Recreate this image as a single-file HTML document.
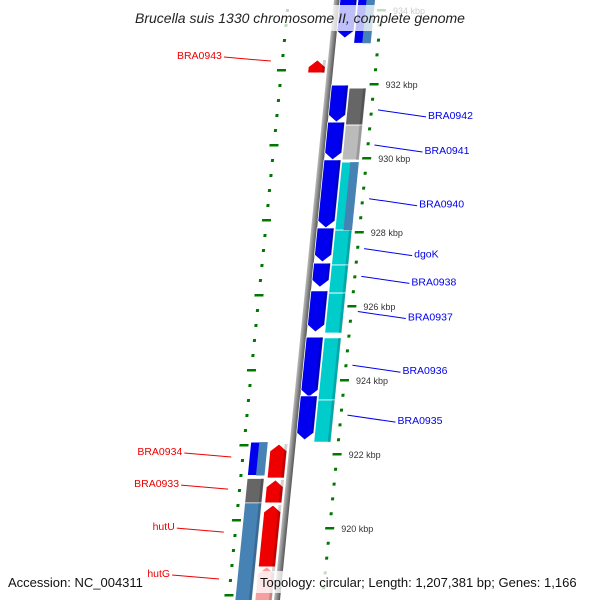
<!DOCTYPE html>
<html><head><meta charset="utf-8"><style>
html,body{margin:0;padding:0;background:#fff;width:600px;height:600px;overflow:hidden;position:relative;}
svg{display:block;font-family:"Liberation Sans",sans-serif;}
</style></head><body>
<svg id="map" width="600" height="600" viewBox="0 0 600 600" style="position:absolute;left:0;top:0" xmlns="http://www.w3.org/2000/svg">
<defs>
<linearGradient id="bb" x1="0" x2="1"><stop offset="0" stop-color="#bbb"/><stop offset="0.5" stop-color="#888"/><stop offset="1" stop-color="#555"/></linearGradient>
<clipPath id="frame"><rect x="0" y="0" width="600" height="600"/></clipPath>
</defs>
<g clip-path="url(#frame)">
<g id="skew" transform="matrix(1,0,-0.1,1,337,0)"></g>
<g id="labels"></g>
</g>
</svg>
<script>
// ---- data ----
const genes = [
  // [startKbp, endKbp, lane, color, arrowDir]
  [934.6, 933.24, 1, "#0000ee", 1],
  [931.97, 930.97, 1, "#0000ee", 1],
  [930.97, 929.95, 1, "#0000ee", 1],
  [929.95, 928.11, 1, "#0000ee", 1],
  [928.11, 927.19, 1, "#0000ee", 1],
  [927.16, 926.51, 1, "#0000ee", 1],
  [926.41, 925.30, 1, "#0000ee", 1],
  [925.16, 923.54, 1, "#0000ee", 1],
  [923.57, 922.38, 1, "#0000ee", 1],
  [934.6, 933.1, 2, "#0000ee", 0],
  [931.89, 930.89, 2, "#666666", 0],
  [930.89, 929.95, 2, "#bbbbbb", 0],
  [929.89, 928.05, 2, "#00cccc", 0],
  [928.05, 927.11, 2, "#00cccc", 0],
  [927.11, 926.35, 2, "#00cccc", 0],
  [926.35, 925.27, 2, "#00cccc", 0],
  [925.14, 923.46, 2, "#00cccc", 0],
  [923.46, 922.32, 2, "#00cccc", 0],
  [932.65, 932.30, -1, "#ee0000", -1],
  [922.27, 921.35, -1, "#ee0000", -1],
  [921.30, 920.68, -1, "#ee0000", -1],
  [920.62, 918.95, -1, "#ee0000", -1],
  [918.95, 917.5, -1, "#f5a0a0", -1],
  [922.32, 921.42, -2, "#0000ee", 0],
  [921.34, 920.68, -2, "#666666", 0],
  [920.68, 917.5, -2, "#4682b4", 0]
];
const stripes = [[929.89, 928.05, 2], [934.6, 933.1, 2], [922.32, 921.42, -2]];
const rightLabels = ["BRA0942","BRA0941","BRA0940","dgoK","BRA0938","BRA0937","BRA0936","BRA0935"];
const rightLabelKbp = [931.30, 930.35, 928.90, 927.55, 926.80, 925.85, 924.40, 923.05];
const leftLabels = ["BRA0943","BRA0934","BRA0933","hutU","hutG"];
const leftLabelKbp = [932.62, 921.92, 921.05, 919.89, 918.62];
const tickKbp = [934, 932, 930, 928, 926, 924, 922, 920];

// ---- axis ----
const ppk = 37;
function yOf(k){ return 84 + (932 - k) * ppk; }
function baseX(y){ return 337 - 0.1 * y; }
const NS = "http://www.w3.org/2000/svg";
const sk = document.getElementById("skew");
const lab = document.getElementById("labels");
function mk(tag, attrs, parent){ const e = document.createElementNS(NS, tag); for (const k in attrs) e.setAttribute(k, attrs[k]); parent.appendChild(e); return e; }

const bbEl = mk("rect", {x:-3, y:-5, width:6, height:610, fill:"url(#bb)"}, sk);



const laneU = {"1":[3,20], "2":[21,38], "-1":[-22,-5], "-2":[-42,-25]};
genes.forEach((g) => {
  const y0 = yOf(g[0]), y1 = yOf(g[1]);
  const [u0, u1] = laneU[String(g[2])];
  const um = (u0 + u1) / 2, h = 7;
  let d;
  if (g[4] === 1) d = `M${u0},${y0}H${u1}V${y1-h}L${um},${y1}L${u0},${y1-h}Z`;
  else if (g[4] === -1) d = `M${u0},${y1}H${u1}V${y0+h}L${um},${y0}L${u0},${y0+h}Z`;
  else d = `M${u0},${y0}H${u1}V${y1}H${u0}Z`;
  const p = mk("path", {d: d, fill: g[3], stroke: "#fff", "stroke-width": 0.8}, sk);
  
  
  mk("path", {d: `M${u1-3},${y0}H${u1}V${y1-(g[4]===1?h:0)}H${u1-3}Z`, fill:"#000", opacity:0.18}, sk);
});
stripes.forEach(s => {
  const [u0,u1] = laneU[String(s[2])];
  const r = mk("rect", {x:(u0+u1)/2, y:yOf(s[0]), width:(u1-u0)/2, height:yOf(s[1])-yOf(s[0]), fill:"#4682b4"}, sk);
  
  
});

for (let k = 935.2; k >= 917.5; k -= 0.4) {
  const y = yOf(k);
  const major = Math.abs(Math.round(k) - k) < 0.05 && Math.round(k) % 2 === 0;
  const t = mk("rect", {x: 45 - (major?4:1), y: y-1, width: major?9:3, height: major?2.5:3, fill:"#007700"}, sk);
  
  
}
for (let j = -6; j < 46; j++) {
  const y = 70 + j * 15;
  const major = j % 5 === 0;
  const t = mk("rect", {x: -49 - (major?4:1), y: y-1, width: major?9:3, height: major?2.5:3, fill:"#007700"}, sk);
  
  
}

tickKbp.forEach(k => {
  const y = yOf(k);
  const t = mk("text", {x: baseX(y) + 57, y: y + 4, "font-size": 9, fill: "#333"}, lab);
  t.textContent = k + " kbp";
  
  
});

rightLabels.forEach((n, i) => {
  const y = yOf(rightLabelKbp[i]);
  const x0 = baseX(y) + 52, x1 = x0 + 48;
  const l = mk("line", {x1: x0, y1: y, x2: x1, y2: y + 7, stroke: "#0000ee", "stroke-width": 1}, lab);
  
  
  const t = mk("text", {x: x1 + 2, y: y + 9, "font-size": 10.5, fill: "#0000ee"}, lab);
  t.textContent = n;
  
  
});
leftLabels.forEach((n, i) => {
  const y = yOf(leftLabelKbp[i]);
  const x1 = baseX(y) - 60, x0 = x1 - 47;
  const l = mk("line", {x1: x0, y1: y - 4, x2: x1, y2: y, stroke: "#ee0000", "stroke-width": 1}, lab);
  
  
  const t = mk("text", {x: x0 - 2, y: y - 2, "font-size": 10.5, fill: "#ee0000", "text-anchor": "end"}, lab);
  t.textContent = n;
  
  
});
</script>
<svg width="600" height="600" style="position:absolute;left:0;top:0;font-family:'Liberation Sans',sans-serif">
<rect x="112" y="5" width="376" height="26" fill="#fff" opacity="0.75"/>
<text x="300" y="23" text-anchor="middle" font-size="14" font-style="italic" fill="#222">Brucella suis 1330 chromosome II, complete genome</text>
<text x="8" y="587" font-size="13" fill="#111">Accession: NC_004311</text>
<rect x="256" y="571" width="340" height="22" fill="#fff" opacity="0.75"/>
<text x="260" y="587" font-size="13" fill="#111">Topology: circular; Length: 1,207,381 bp; Genes: 1,166</text>
</svg>
</body></html>
